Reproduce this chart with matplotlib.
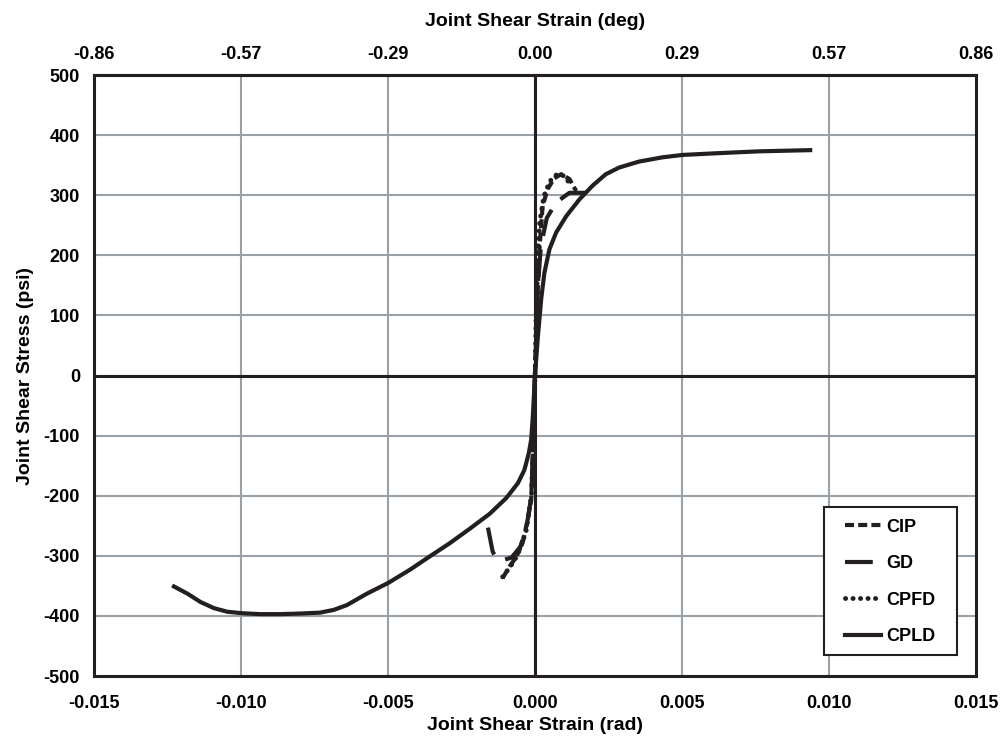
import numpy as np
import matplotlib
matplotlib.use('Agg')
import matplotlib.pyplot as plt
from matplotlib.patches import Rectangle

plt.rcParams['font.family'] = ['Liberation Sans', 'DejaVu Sans']
plt.rcParams['font.weight'] = 'bold'
plt.rcParams['axes.unicode_minus'] = False
plt.rcParams['lines.scale_dashes'] = False

# joint shear strain (rad) / joint shear stress (psi)
cpld_x = [-0.01228, -0.01182, -0.01137, -0.01092, -0.01047, -0.00996, -0.00934,
          -0.00866, -0.00798, -0.00731, -0.00685, -0.0064, -0.00572, -0.00499,
          -0.00425, -0.00358, -0.0029, -0.00222, -0.00154, -0.00098, -0.00058,
          -0.00036, -0.00021, -0.00013, -0.00008, 0.0,
          0.00009, 0.00021, 0.00032, 0.00049, 0.00072, 0.00106, 0.00151,
          0.00196, 0.00241, 0.00286, 0.00354, 0.00433, 0.00501, 0.00625,
          0.00761, 0.00936]
cpld_y = [-351, -363, -377, -387, -393, -395.5, -397,
          -397, -396, -394.5, -390, -382, -363, -345,
          -323, -301, -279, -255, -230, -204, -179,
          -157, -129, -107, -73, 0,
          60, 127, 171, 210, 238, 265, 293,
          316, 335, 346, 356, 363, 367, 370,
          373, 375]

cip_x = [-0.0011, -0.00087, -0.00064, -0.00042, -0.00025, -0.00013, -0.00006,
         0.0, 0.00005, 0.0001, 0.00015, 0.00021, 0.00026, 0.00043, 0.00065,
         0.00089, 0.00117, 0.0014]
cip_y = [-337, -318, -302, -278, -240, -207, -110,
         0, 80, 150, 210, 249, 282, 310, 328,
         335, 327, 307]

gd_x = [-0.0016, -0.00144, -0.0013, -0.00115, -0.0008, -0.0005, -0.0003,
        -0.00012, 0.0, 0.0001, 0.0002, 0.0004, 0.00072, 0.00117, 0.00174]
gd_y = [-253, -293, -305, -308, -303, -285, -255,
        -200, 0, 150, 215, 262, 288, 304, 304]

cpfd_x = [-0.0011, -0.0009, -0.0007, -0.0005, -0.0003, -0.00012, -0.00004, 0.0,
          0.00004, 0.0001, 0.00016, 0.0003, 0.0005, 0.00075, 0.001, 0.0012]
cpfd_y = [-335, -322, -308, -288, -258, -200, -100, 0,
          100, 200, 255, 298, 323, 335, 332, 318]

x_ticks = [-0.015, -0.010, -0.005, 0.0, 0.005, 0.010, 0.015]
y_ticks = [-500, -400, -300, -200, -100, 0, 100, 200, 300, 400, 500]

fig = plt.figure(figsize=(10.03, 7.42), dpi=100)
ax = fig.add_axes([0.0937, 0.0889, 0.8794, 0.81])

grid_col = '#9aa1a9'
ink = '#231f20'
for xv in x_ticks[1:-1]:
    ax.axvline(xv, color=grid_col, lw=1.5, zorder=0)
for yv in y_ticks[1:-1]:
    ax.axhline(yv, color=grid_col, lw=1.5, zorder=0)
ax.axhline(0, color=ink, lw=2.2, zorder=1)
ax.axvline(0, color=ink, lw=2.2, zorder=1)

ax.plot(cip_x, cip_y, color=ink, lw=3, dashes=(6.5, 3), label='CIP', zorder=3)
ax.plot(gd_x, gd_y, color=ink, lw=3, dashes=(20, 10), label='GD', zorder=3)
ax.plot(cpfd_x, cpfd_y, color=ink, lw=3.5, dashes=(0.1, 5.3),
        dash_capstyle='round', label='CPFD', zorder=3)
ax.plot(cpld_x, cpld_y, color=ink, lw=3, label='CPLD', zorder=4,
        solid_joinstyle='round')

ax.set_xlim(-0.015, 0.015)
ax.set_ylim(-500, 500)
ax.set_xticks(x_ticks)
ax.set_xticklabels(['%.3f' % v for v in x_ticks])
ax.set_yticks(y_ticks)
ax.tick_params(axis='x', length=0, labelsize=13, pad=14)
ax.tick_params(axis='y', length=0, labelsize=13, pad=10)
for s in ax.spines.values():
    s.set_linewidth(2.2)
    s.set_color(ink)

ax.set_xlabel('Joint Shear Strain (rad)', fontsize=14, fontweight='bold', labelpad=3)
ax.set_ylabel('Joint Shear Stress (psi)', fontsize=14, fontweight='bold', labelpad=7)

sec = ax.secondary_xaxis('top', functions=(np.degrees, np.radians))
sec.set_xticks(np.degrees(x_ticks))
sec.set_xticklabels(['%.2f' % v for v in np.degrees(x_ticks)])
sec.tick_params(length=0, labelsize=13, pad=9)
sec.spines['top'].set_linewidth(2.2)
sec.set_xlabel('Joint Shear Strain (deg)', fontsize=14, fontweight='bold', labelpad=14)

# legend box drawn separately so the inner padding can match
ax.add_patch(Rectangle((0.8277, 0.0349), 0.1508, 0.2463, transform=ax.transAxes,
                       facecolor='white', edgecolor=ink, lw=1.5, zorder=5))
leg = ax.legend(loc='upper left', bbox_to_anchor=(0.8515, 0.262),
                fontsize=13, handlelength=2.0, handletextpad=0.3,
                labelspacing=1.08, borderpad=0, borderaxespad=0,
                frameon=False)
leg.set_zorder(6)
for t in leg.get_texts():
    t.set_fontweight('bold')

fig.savefig('out.png', dpi=100)
